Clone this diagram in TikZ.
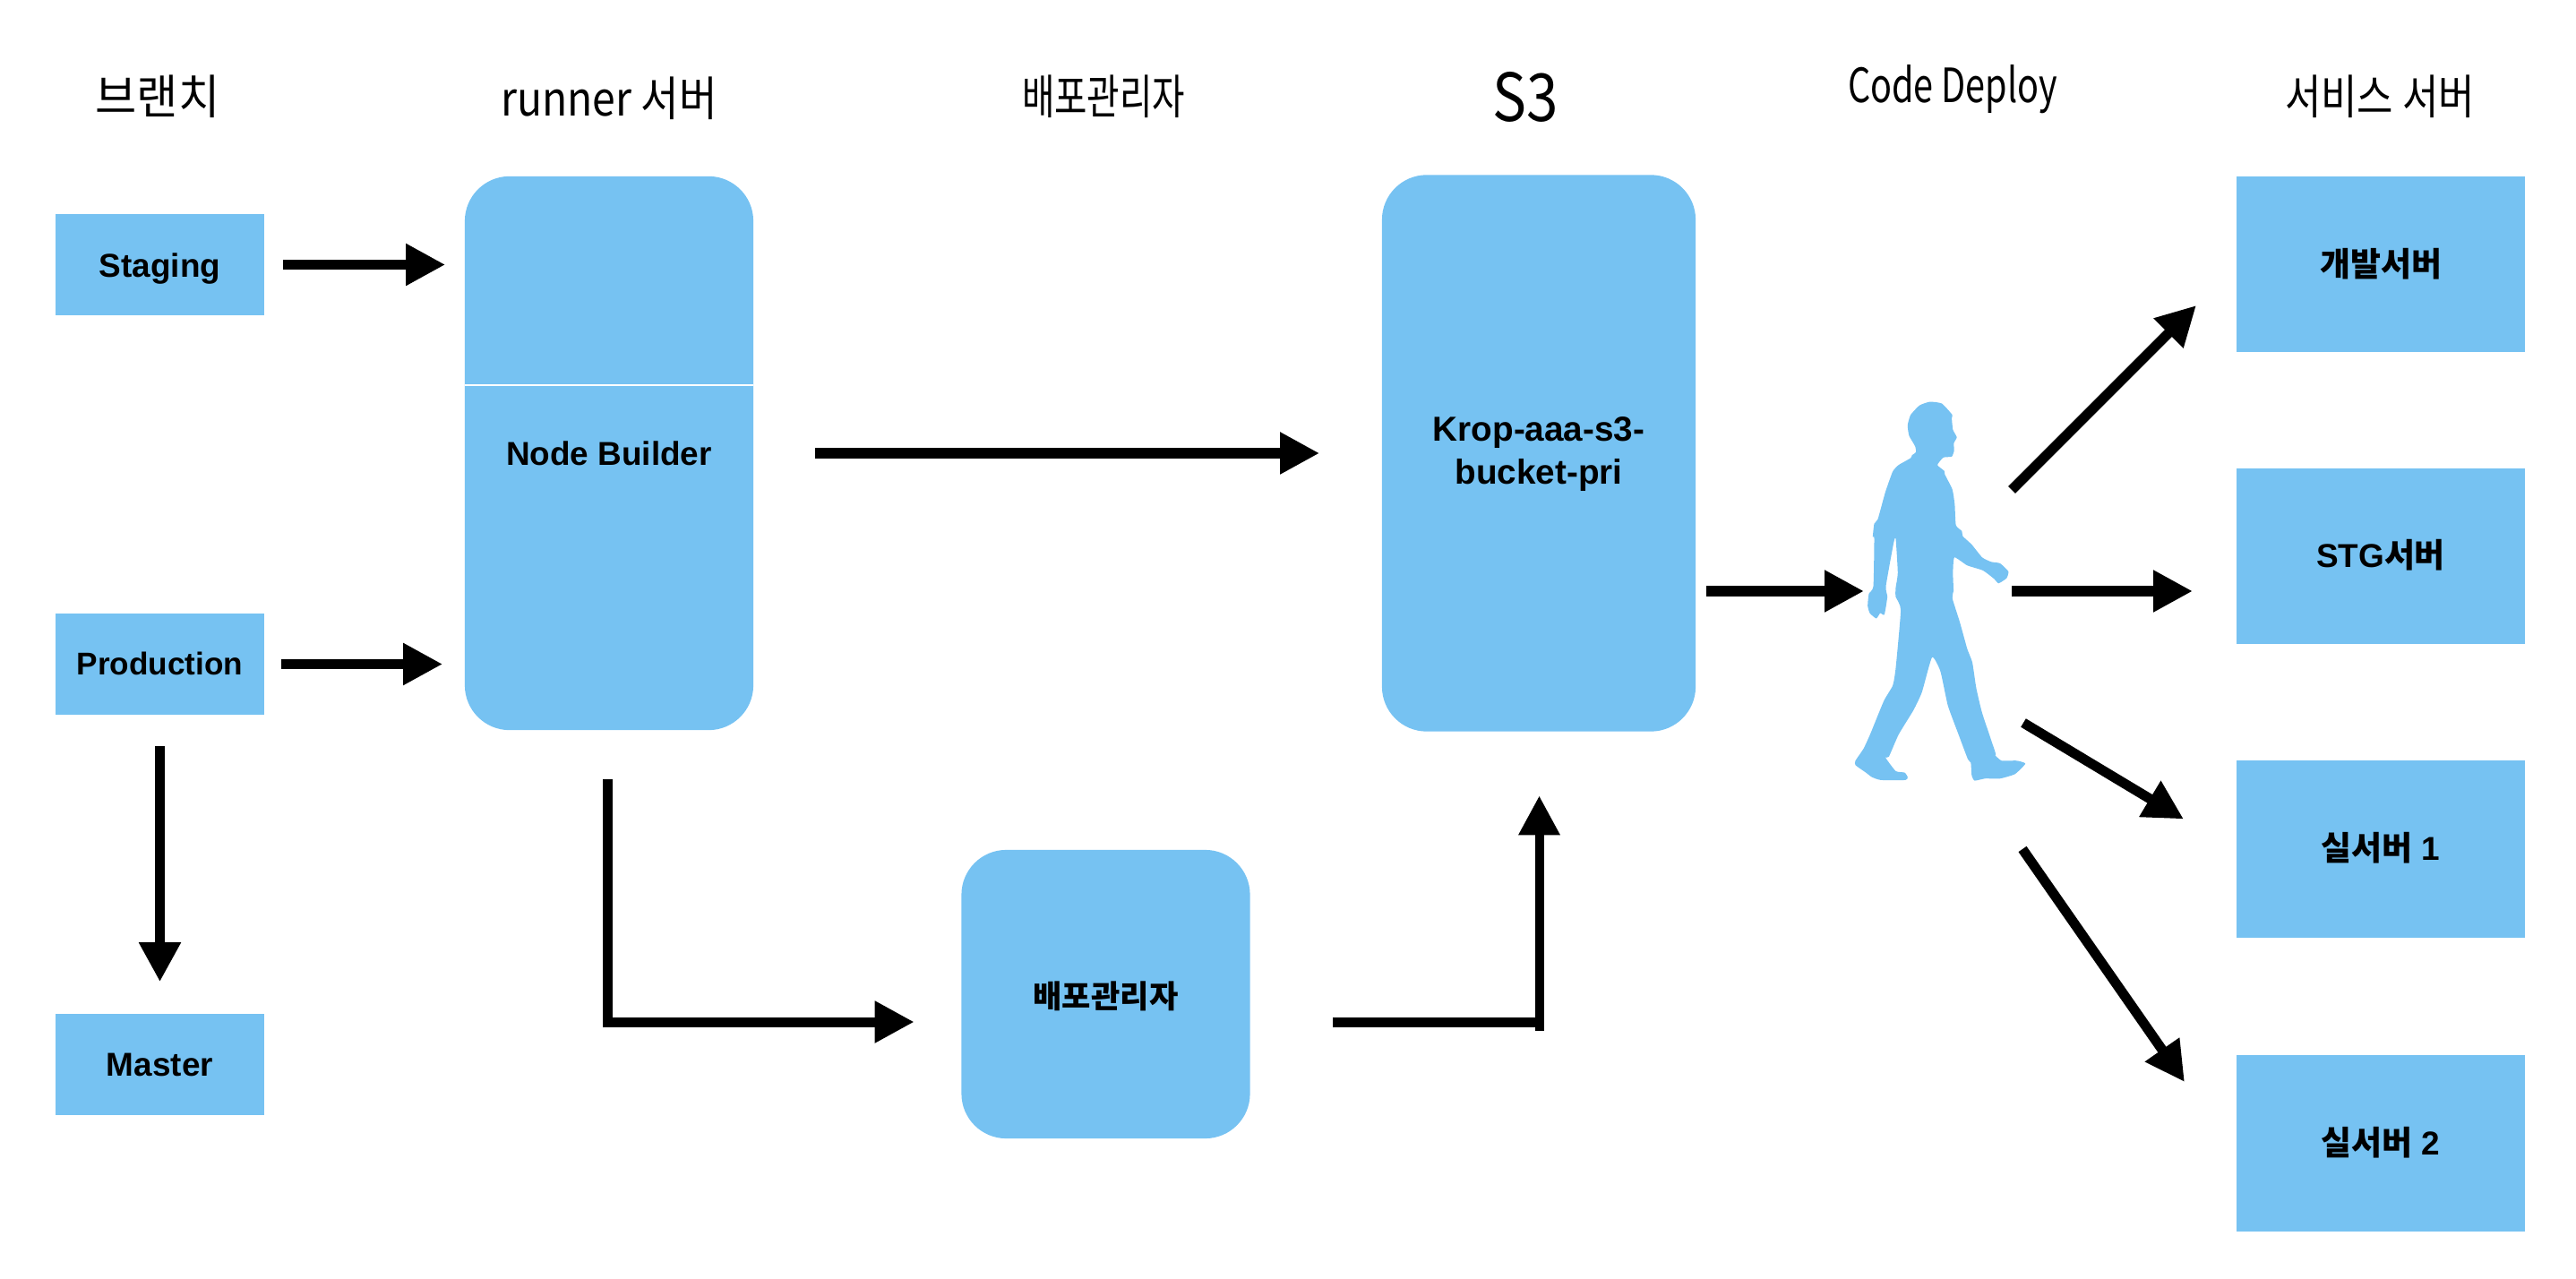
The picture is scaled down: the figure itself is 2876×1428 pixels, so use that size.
\documentclass[tikz,border=0pt]{standalone}
\usepackage{fontspec}
\setmainfont{Liberation Sans}
\newfontfamily\krfont{Noto Sans CJK KR}
\usetikzlibrary{arrows.meta}
\definecolor{boxblue}{HTML}{76C2F2}
\tikzset{
	bluebox/.style={fill=boxblue, inner sep=0, align=center, text height=0.27cm, text depth=0pt, font=\fontsize{10.5}{13.6}\selectfont\bfseries},
	roundbox/.style={bluebox, rounded corners=0.5cm},
	title/.style={font=\krfont\fontsize{15}{18}\selectfont, xscale=0.75, transform shape, inner sep=0},
	flow/.style={line width=0.11cm, -{Triangle[length=0.44cm, width=0.44cm]}},
	flowplain/.style={line width=0.11cm},
}

\begin{document}
\begin{tikzpicture}[x=0.01cm, y=-0.01cm]
			%%%%% START %%%%%
			\useasboundingbox (0, 0) rectangle (2876, 1428);
			
			\node[title, xscale=1.27] (branchtitle) at (176, 108) {브랜치};
			\node[title, xscale=1.17] (runnertitle) at (680, 110) {runner 서버};
			\node[title] (managertitle) at (1232, 108) {배포관리자};
			\node[title, font=\krfont\fontsize{21}{24}\selectfont, xscale=1.15] (bucket3title) at (1703, 108) {S3};
			\node[title] (deploytitle) at (2180, 100) {Code Deploy};
			\node[title, xscale=1.11] (servicetitle) at (2657, 108) {서비스 서버};
			
			\node[bluebox, minimum width=2.33cm, minimum height=1.13cm] (staging) at (178.5, 295.5) {Staging};
			\node[bluebox, minimum width=2.33cm, minimum height=1.13cm, text height=0.24cm, font=\fontsize{10}{12}\selectfont\bfseries] (production) at (178.5, 741.5) {Production};
			\node[bluebox, minimum width=2.33cm, minimum height=1.13cm, text height=0.25cm] (master) at (178.5, 1188.5) {Master};
			
			\node[roundbox, minimum width=3.22cm, minimum height=6.18cm] (builder) at (680, 506) {Node Builder};
			\draw[white, line width=0.015cm] (519, 430) -- (841, 430);
			
			\node[roundbox, minimum width=3.22cm, minimum height=3.22cm, text height=0.31cm, font=\krfont\fontsize{10}{12}\selectfont\bfseries] (manager) at (1234.5, 1110) {배포관리자};
			\node[roundbox, minimum width=3.5cm, minimum height=6.21cm, text height=0.69cm, font=\fontsize{11}{13.6}\selectfont\bfseries] (bucket) at (1718, 506) {Krop-aaa-s3-\\bucket-pri};
			
			\node[bluebox, minimum width=3.22cm, minimum height=1.96cm] (devserver) at (2658, 295) {\krfont 개발서버};
			\node[bluebox, minimum width=3.22cm, minimum height=1.96cm, text height=0.25cm] (stgserver) at (2658, 621) {STG{\krfont 서버}};
			\node[bluebox, minimum width=3.22cm, minimum height=1.98cm, text height=0.25cm] (realone) at (2658, 948) {{\krfont 실서버} 1};
			\node[bluebox, minimum width=3.22cm, minimum height=1.97cm, text height=0.25cm] (realtwo) at (2658, 1276.5) {{\krfont 실서버} 2};
			
			\begin{scope}[shift={(1980, 400)}, x=0.00333cm, y=-0.00333cm]
				\fill[boxblue] plot[smooth cycle, tension=0.3] coordinates {
					(525,146) (565,152) (600,190) (598,200) (602,240) (615,265) (605,285) (606,310) (598,330) (570,333)
					(550,358) (573,378) (575,390) (600,440) (608,490) (612,560) (632,580) (635,597) (665,625) (700,668)
					(730,683) (760,688) (788,715) (782,738) (755,755) (740,740) (703,712) (650,695) (607,668) (602,720)
					(604,780) (600,805) (625,885) (650,975) (667,1020) (680,1105) (700,1190) (745,1325) (742,1330) (765,1350)
					(815,1350) (845,1360) (810,1395) (760,1410) (710,1410) (675,1417) (665,1400) (662,1357) (652,1345) (620,1260)
					(585,1165) (560,1050) (532,1003) (498,1120) (470,1180) (420,1262) (387,1337) (376,1340) (410,1385) (440,1390)
					(450,1405) (443,1415) (360,1415) (330,1405) (310,1390) (275,1365) (275,1350) (302,1310) (325,1260) (370,1150)
					(400,1098) (410,1040) (427,845) (410,800) (410,770) (417,720) (410,605) (403,620) (377,765) (382,800)
					(372,860) (358,855) (345,873) (323,855) (316,830) (320,790) (335,765) (338,605) (333,600) (338,555)
					(350,540) (375,450) (400,380) (420,358) (460,335) (465,325) (478,315) (475,295) (455,260) (450,225)
					(460,190) (490,158)
				};
			\end{scope}
			
			\coordinate (walkerin) at (2081, 660);
			\coordinate (walkerone) at (2246, 547);
			\coordinate (walkertwo) at (2246, 660);
			\coordinate (walkerthree) at (2259, 807);
			\coordinate (walkerfour) at (2258, 948);
			\coordinate (tipone) at (2452, 341);
			\coordinate (tiptwo) at (2448, 660);
			\coordinate (tipthree) at (2438, 914.5);
			\coordinate (tipfour) at (2439, 1208);
			\coordinate (bendleft) at (678, 1141);
			\coordinate (bendright) at (1718.5, 1141);
			\coordinate (stubright) at (1718.5, 1151);
			
			\draw[flow, shorten <=0.2cm, shorten >=0.21cm] (staging.east) -- (staging.east -| builder.west);
			\draw[flow, shorten <=0.18cm, shorten >=0.24cm] (production.east) -- (production.east -| builder.west);
			\draw[flow, shorten <=0.34cm, shorten >=0.35cm] (production.south) -- (master.north);
			\draw[flow, shorten <=0.68cm, shorten >=0.69cm] (builder.east) -- (bucket.west);
			
			\draw[flow, shorten <=0.11cm] (bucket.east |- walkerin) -- (walkerin);
			\draw[flow] (walkerone) -- (tipone);
			\draw[flow] (walkertwo) -- (tiptwo);
			\draw[flow] (walkerthree) -- (tipthree);
			\draw[flow] (walkerfour) -- (tipfour);
			
			\draw[flow, shorten <=0.54cm, shorten >=0.52cm] (builder.south -| bendleft) -- (bendleft) -- (bendleft -| manager.west);
			\draw[flowplain, shorten <=0.92cm] (manager.east |- bendright) -- (bendright);
			\draw[flow, line width=0.1cm, shorten >=0.71cm] (stubright) -- (stubright |- bucket.south);
			
			%%%%% END %%%%%
\end{tikzpicture}
\end{document}
